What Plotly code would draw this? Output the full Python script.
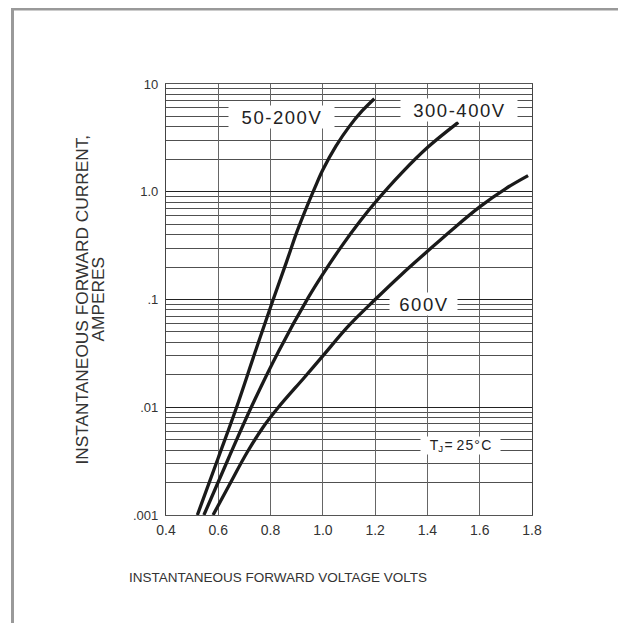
import numpy as np
import plotly.graph_objects as go

# ---- data ----
v_50_200 = [0.52, 0.60, 0.67, 0.74, 0.81, 0.86, 0.90, 0.94, 0.97, 1.00, 1.05, 1.10, 1.15, 1.197]
i_50_200 = [0.001, 0.0034, 0.01, 0.032, 0.1, 0.22, 0.42, 0.74, 1.10, 1.60, 2.65, 4.0, 5.62, 7.3]

v_300_400 = [0.545, 0.64, 0.726, 0.83, 0.944, 1.00, 1.07, 1.142, 1.20, 1.30, 1.40, 1.518]
i_300_400 = [0.001, 0.0034, 0.01, 0.0328, 0.104, 0.172, 0.308, 0.532, 0.794, 1.48, 2.57, 4.4]

v_600 = [0.58, 0.64, 0.71, 0.77, 0.83, 0.93, 1.00, 1.10, 1.20, 1.30, 1.40, 1.50, 1.60, 1.70, 1.785]
i_600 = [0.001, 0.00186, 0.0038, 0.00646, 0.01, 0.019, 0.030, 0.0575, 0.1, 0.17, 0.28, 0.457, 0.724, 1.07, 1.41]

x_ticks = [0.4, 0.6, 0.8, 1.0, 1.2, 1.4, 1.6, 1.8]
x_tick_text = ["0.4", "0.6", "0.8", "1.0", "1.2", "1.4", "1.6", "1.8"]
y_ticks = [0.001, 0.01, 0.1, 1, 10]
y_tick_text = [".001", ".01", ".1", "1.0", "10"]

series = [
    ("50-200V", v_50_200, i_50_200),
    ("300-400V", v_300_400, i_300_400),
    ("600V", v_600, i_600),
]

# label positions (data units)
labels = [
    ("50-200V", 0.840, 4.89, 103, 20, 18.5),
    ("300-400V", 1.522, 5.74, 114, 20, 18.5),
    ("600V", 1.385, 0.0908, 65, 20, 18.5),
]

FONT = "Liberation Sans, Arial, Helvetica, sans-serif"
HS = "\u200a"


def spaced(t):
    return HS.join(list(t))


fig = go.Figure()
for name, v, i in series:
    fig.add_trace(go.Scatter(
        x=v, y=i, mode="lines", name=name,
        line=dict(color="#1a1a1a", width=3.3, shape="spline", smoothing=1.0),
        hoverinfo="skip", showlegend=False,
    ))

annotations = []
for text, xv, yv, w, h, fs in labels:
    annotations.append(dict(
        x=xv, y=np.log10(yv), xref="x", yref="y", text=spaced(text),
        showarrow=False, bgcolor="white", width=w, height=h,
        font=dict(family=FONT, size=fs, color="#222"),
        xanchor="center", yanchor="middle",
    ))
annotations.append(dict(
    x=1.528, y=np.log10(0.00437), xref="x", yref="y",
    text="T<sub>J</sub>" + HS + "=" + " " + spaced("25°C"), showarrow=False,
    bgcolor="white", width=77, height=15,
    font=dict(family=FONT, size=14, color="#222"),
    xanchor="center", yanchor="middle",
))
# axis titles
annotations.append(dict(
    x=0.305, y=-0.1439, xref="paper", yref="paper",
    text="INSTANTANEOUS FORWARD VOLTAGE VOLTS", showarrow=False,
    font=dict(family=FONT, size=13.5, color="#333"),
    xanchor="center", yanchor="middle",
))
annotations.append(dict(
    x=-0.2322, y=0.5, xref="paper", yref="paper",
    text="INSTANTANEOUS FORWARD CURRENT,", showarrow=False, textangle=-90,
    font=dict(family=FONT, size=17.3, color="#333"),
    xanchor="center", yanchor="middle",
))
annotations.append(dict(
    x=-0.1885, y=0.5, xref="paper", yref="paper",
    text="AMPERES", showarrow=False, textangle=-90,
    font=dict(family=FONT, size=17.3, color="#333"),
    xanchor="center", yanchor="middle",
))

# frame around the picture (paper units; plot area is 366 x 431 px)
shapes = [
    dict(type="line", xref="paper", yref="paper", x0=-0.4235, x1=1.2568,
         y0=1.174, y1=1.174, line=dict(color="#999999", width=3)),
    dict(type="line", xref="paper", yref="paper", x0=-0.4194, x1=-0.4194,
         y0=1.1775, y1=-0.27, line=dict(color="#9a9a9a", width=3)),
    dict(type="line", xref="paper", yref="paper", x0=1.2486, x1=1.2486,
         y0=1.1752, y1=-0.27, line=dict(color="#c8c8c8", width=1.5)),
]

fig.update_layout(
    width=618, height=615,
    margin=dict(l=158, r=94, t=76, b=108),
    paper_bgcolor="white", plot_bgcolor="white",
    annotations=annotations, shapes=shapes,
    font=dict(family=FONT, color="#333"),
)
fig.update_xaxes(
    range=[0.4, 1.8], tickvals=x_ticks, ticktext=x_tick_text,
    showgrid=True, gridcolor="#666666", gridwidth=1.3,
    showline=True, linecolor="#555555", linewidth=1.3, mirror=True,
    ticks="", ticklabelstandoff=2, zeroline=False,
    tickfont=dict(family=FONT, size=14, color="#333"),
)
fig.update_yaxes(
    type="log", range=[-3, 1], tickvals=y_ticks, ticktext=y_tick_text,
    showgrid=True, gridcolor="#222222", gridwidth=1,
    minor=dict(dtick="D1", showgrid=True, gridcolor="#505050", gridwidth=1),
    showline=True, linecolor="#444444", linewidth=1.3, mirror=True,
    ticks="", ticklabelstandoff=4, zeroline=False,
    tickfont=dict(family=FONT, size=13, color="#333"),
)

fig.write_html("out.html")
